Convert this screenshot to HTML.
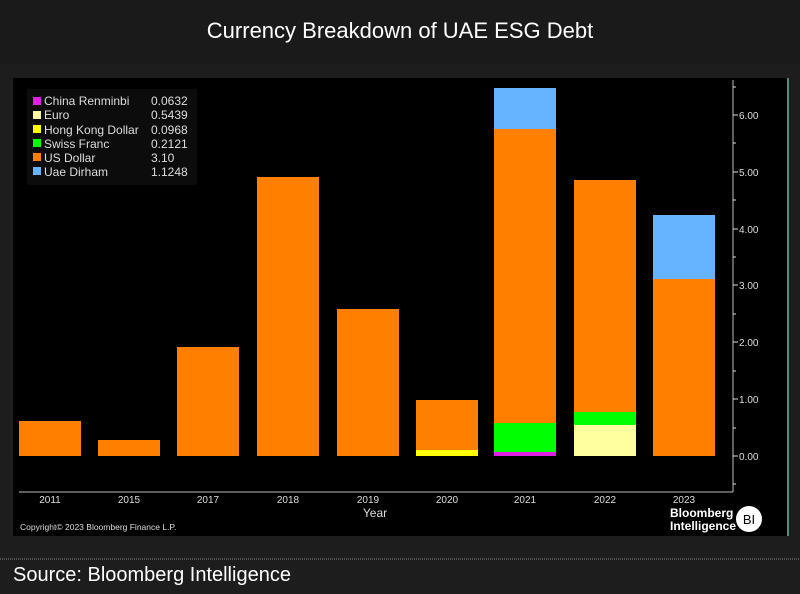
<!DOCTYPE html>
<html><head><style>
body{margin:0;width:800px;height:594px;background:#1d1d1d;font-family:"Liberation Sans",sans-serif;overflow:hidden}
</style></head><body>
<svg width="800" height="594" xmlns="http://www.w3.org/2000/svg" style="position:absolute;left:0;top:0">
<rect x="0" y="0" width="800" height="64" fill="#1a1a1a"/>
<text x="400" y="38" fill="#fff" font-size="22" text-anchor="middle">Currency Breakdown of UAE ESG Debt</text>
<rect x="13" y="78" width="775" height="458" fill="#000"/>
<line x1="788" y1="78" x2="788" y2="536" stroke="#5a8a78" stroke-width="2"/>
<!-- bars -->
<g fill="#ff8000">
<rect x="19" y="421" width="62" height="35"/>
<rect x="98" y="440" width="62" height="16"/>
<rect x="177" y="347" width="62" height="109"/>
<rect x="257" y="177" width="62" height="279"/>
<rect x="337" y="309" width="62" height="147"/>
<rect x="416" y="400" width="62" height="50"/>
<rect x="494" y="129" width="62" height="294"/>
<rect x="574" y="180" width="62" height="232"/>
<rect x="653" y="279" width="62" height="177"/>
</g>
<rect x="416" y="450" width="62" height="6" fill="#ffff00"/>
<rect x="494" y="452" width="62" height="4" fill="#e020e0"/>
<rect x="494" y="423" width="62" height="29" fill="#00ff00"/>
<rect x="494" y="88" width="62" height="41" fill="#66b3ff"/>
<rect x="574" y="425" width="62" height="31" fill="#ffffa0"/>
<rect x="574" y="412" width="62" height="13" fill="#00ff00"/>
<rect x="653" y="215" width="62" height="64" fill="#66b3ff"/>
<!-- axes -->
<line x1="733" y1="80" x2="733" y2="492" stroke="#bbb" stroke-width="1"/>
<line x1="19" y1="492" x2="733" y2="492" stroke="#bbb" stroke-width="1"/>
<g fill="#ddd" font-size="10">
<text x="739" y="119">6.00</text><text x="739" y="176">5.00</text><text x="739" y="233">4.00</text>
<text x="739" y="289">3.00</text><text x="739" y="346">2.00</text><text x="739" y="403">1.00</text><text x="739" y="460">0.00</text>
</g>
<g stroke="#ddd"><line x1="733" y1="115" x2="738" y2="115"/><line x1="733" y1="172" x2="738" y2="172"/><line x1="733" y1="229" x2="738" y2="229"/><line x1="733" y1="285" x2="738" y2="285"/><line x1="733" y1="342" x2="738" y2="342"/><line x1="733" y1="399" x2="738" y2="399"/><line x1="733" y1="456" x2="738" y2="456"/>
<line x1="733" y1="87" x2="736" y2="87"/><line x1="733" y1="143" x2="736" y2="143"/><line x1="733" y1="200" x2="736" y2="200"/><line x1="733" y1="257" x2="736" y2="257"/><line x1="733" y1="314" x2="736" y2="314"/><line x1="733" y1="371" x2="736" y2="371"/><line x1="733" y1="428" x2="736" y2="428"/><line x1="733" y1="484" x2="736" y2="484"/></g>
<g fill="#ddd" font-size="10" text-anchor="middle">
<text x="50" y="503">2011</text><text x="129" y="503">2015</text><text x="208" y="503">2017</text><text x="288" y="503">2018</text><text x="368" y="503">2019</text><text x="447" y="503">2020</text><text x="525" y="503">2021</text><text x="605" y="503">2022</text><text x="684" y="503">2023</text>
<text x="375" y="517" font-size="12">Year</text>
</g>
<text x="20" y="530" fill="#ddd" font-size="8.5">Copyright© 2023 Bloomberg Finance L.P.</text>
<text x="670" y="517" fill="#fff" font-size="12" font-weight="bold">Bloomberg</text>
<text x="670" y="530" fill="#fff" font-size="12" font-weight="bold">Intelligence</text>
<circle cx="749" cy="519" r="13" fill="#fff"/>
<text x="749" y="524" fill="#000" font-size="13" text-anchor="middle">BI</text>
<!-- legend -->
<rect x="27" y="89" width="170" height="96" fill="#0c0c0c"/>
<g font-size="12" fill="#ddd">
<rect x="33" y="97" width="8" height="8" fill="#e020e0"/><text x="44" y="105">China Renminbi</text><text x="151" y="105">0.0632</text>
<rect x="33" y="111" width="8" height="8" fill="#ffffa0"/><text x="44" y="119">Euro</text><text x="151" y="119">0.5439</text>
<rect x="33" y="125" width="8" height="8" fill="#ffff00"/><text x="44" y="134">Hong Kong Dollar</text><text x="151" y="134">0.0968</text>
<rect x="33" y="139" width="8" height="8" fill="#00ff00"/><text x="44" y="148">Swiss Franc</text><text x="151" y="148">0.2121</text>
<rect x="33" y="153" width="8" height="8" fill="#ff8000"/><text x="44" y="162">US Dollar</text><text x="151" y="162">3.10</text>
<rect x="33" y="167" width="8" height="8" fill="#66b3ff"/><text x="44" y="176">Uae Dirham</text><text x="151" y="176">1.1248</text>
</g>
<line x1="0" y1="559" x2="800" y2="559" stroke="#888" stroke-dasharray="1,1"/>
<text x="13" y="581" fill="#fff" font-size="20">Source: Bloomberg Intelligence</text>
</svg>
</body></html>
